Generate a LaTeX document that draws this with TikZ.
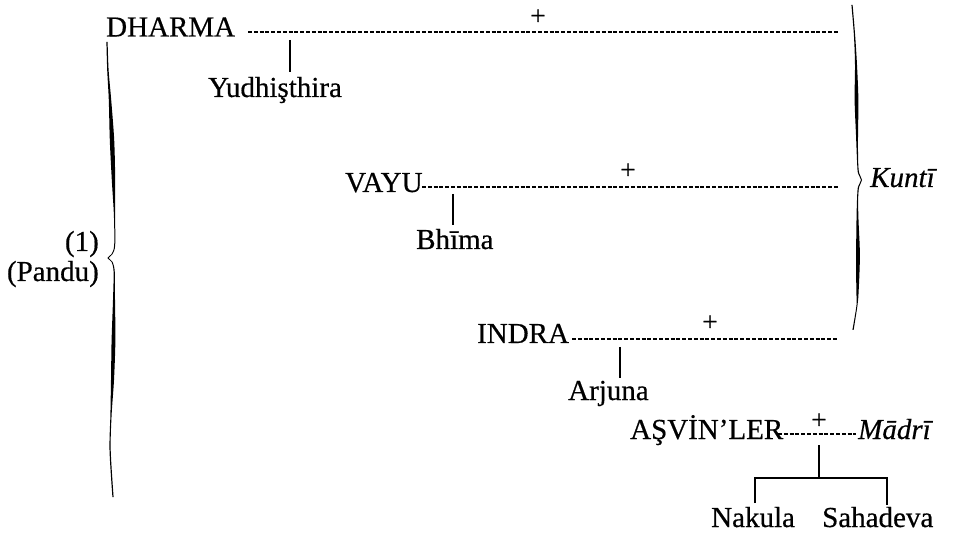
\documentclass[tikz,border=0pt]{standalone}
\usepackage{fontspec}
\setmainfont{Liberation Serif}
\newfontfamily\namefont{Liberation Serif}[FakeBold=0.5]
\begin{document}
\begin{tikzpicture}[x=1pt,y=-1pt,
  lbl/.style={inner sep=0pt,anchor=base west,font=\namefont\fontsize{29}{32}\selectfont},
  lblr/.style={lbl,anchor=base east},
  wife/.style={lbl,font=\namefont\fontsize{29}{32}\selectfont\itshape},
  plus/.style={inner sep=0pt,font=\namefont\fontsize{27}{28}\selectfont},
  union/.style={line width=1.7pt,dash pattern=on 4pt off 1.8pt},
  desc/.style={line width=1.6pt},
  bracefill/.style={fill=black}]
\path[use as bounding box] (0,0) rectangle (953,534);

% names
\node[lbl] (dharma) at (106,36.5) {DHARMA};
\node[lbl] (yudh) at (208,97) {Yudhişthira};
\node[lbl] (vayu) at (345,192) {VAYU};
\node[lbl] (bhima) at (416,249) {Bhīma};
\node[lbl] (indra) at (477,343) {INDRA};
\node[lbl] (arjuna) at (568,400) {Arjuna};
\node[lbl] (asvin) at (630,439) {AŞVİN’LER};
\node[wife] (madri) at (858,439) {Mādrī};
\node[wife] (kunti) at (870,187) {Kuntī};
\node[lbl] (nakula) at (711,527) {Nakula};
\node[lbl] (sahadeva) at (822,527) {Sahadeva};
\node[lblr] (one) at (99,251) {(1)};
\node[lblr] (pandu) at (99,281) {(Pandu)};

% union marks
\node[plus] (p1) at (538,17) {+};
\node[plus] (p2) at (628,171) {+};
\node[plus] (p3) at (710,323) {+};
\node[plus] (p4) at (819,421) {+};

% union lines
\coordinate (u1a) at (248,32);  \coordinate (u1b) at (838,32);
\coordinate (u2a) at (422,187); \coordinate (u2b) at (838,187);
\coordinate (u3a) at (572,339); \coordinate (u3b) at (838,339);
\coordinate (u4a) at (778,434); \coordinate (u4b) at (856,434);
\draw[union] (u1a) -- (u1b);
\draw[union] (u2a) -- (u2b);
\draw[union] (u3a) -- (u3b);
\draw[union] (u4a) -- (u4b);

% descent lines
\coordinate (y0) at (290,40);  \coordinate (y1) at (290,72);
\coordinate (b0) at (453,194); \coordinate (b1) at (453,225);
\coordinate (a0) at (620,347); \coordinate (a1) at (620,378);
\coordinate (m0) at (819,445); \coordinate (m1) at (819,478);
\coordinate (n0) at (755,478); \coordinate (n1) at (755,503);
\coordinate (s0) at (887,478); \coordinate (s1) at (887,505);
\draw[desc] (y0) -- (y1);
\draw[desc] (b0) -- (b1);
\draw[desc] (a0) -- (a1);
\draw[desc] (m0) -- (m1);
\draw[desc] (n1) -- (n0) -- (s0) -- (s1);

% left brace (Pandu)
\fill[bracefill] plot[smooth] coordinates {(106.4,42) (107.2,70) (108.8,100) (109.8,140) (111.8,180) (113.9,215) (114.2,245) (111.6,254) (107.4,258) (111.6,262) (113.6,272) (113.0,300) (111.6,340) (111.0,380) (110.4,415) (109.5,450) (112.4,497)}
  -- plot[smooth] coordinates {(113.6,497) (110.7,450) (111.6,415) (114.0,380) (115.4,340) (115.0,300) (114.8,272) (112.6,262) (108.6,258) (112.6,254) (115.2,245) (115.1,215) (115.2,180) (114.2,140) (111.2,100) (108.6,70) (107.6,42)} -- cycle;

% right brace (Kunti)
\fill[bracefill] plot[smooth] coordinates {(851.4,5) (853.9,35) (855.0,65) (854.6,100) (856.0,135) (857.0,160) (857.9,173) (861.0,180) (857.9,187) (857.0,200) (856.5,220) (856.1,255) (856.3,290) (856.5,305) (852.4,330)}
  -- plot[smooth] coordinates {(853.6,330) (857.5,305) (858.7,290) (859.9,255) (858.5,220) (858.1,200) (859.1,187) (862.0,180) (859.1,173) (858.1,160) (858.0,135) (858.4,100) (857.0,65) (855.1,35) (852.6,5)} -- cycle;
\end{tikzpicture}
\end{document}
